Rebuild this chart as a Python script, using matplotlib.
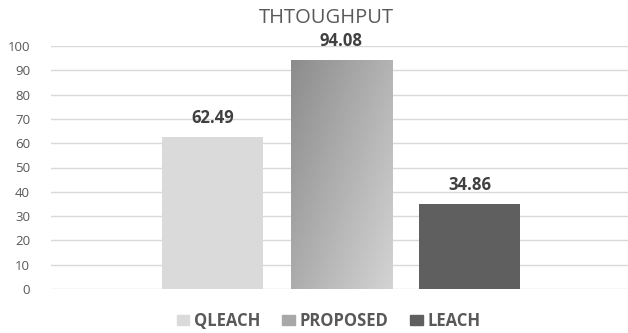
import numpy as np
import matplotlib.pyplot as plt
from matplotlib.patches import Patch

# throughput per protocol
protocols = ['QLEACH', 'PROPOSED', 'LEACH']
throughput = [62.49, 94.08, 34.86]
y_ticks = [0, 10, 20, 30, 40, 50, 60, 70, 80, 90, 100]

plt.rcParams['font.family'] = ['Open Sans', 'DejaVu Sans']

fig = plt.figure(figsize=(6.28, 3.33), dpi=100)
ax = fig.add_axes([51 / 628, 44 / 333, 1 - 51 / 628, 243 / 333])

x = np.arange(len(protocols))
width = 0.786
bars = ax.bar(x, throughput, width=width,
              color=['#dadada', '#b4b4b4', '#5f5f5f'], zorder=2)

# diagonal grey gradient on the PROPOSED bar, dark top-left to light bottom-right
gb = bars[1]
bx, by = gb.get_x(), gb.get_y()
bw, bh = gb.get_width(), gb.get_height()
gx, gy = np.meshgrid(np.linspace(0, 1, 200), np.linspace(0, 1, 200))
grad = 0.55 * gx + 0.45 * gy
img = ax.imshow(grad, cmap='gray', vmin=-1.96, vmax=1.61, origin='upper',
                extent=[bx, bx + bw, by, by + bh], aspect='auto', zorder=3,
                interpolation='bilinear')
img.set_clip_path(gb)
ax.set_xlim(-1.26, 3.23)

for xi, v in zip(x, throughput):
    ax.text(xi, v + 4.3, f'{v:.2f}', ha='center', va='bottom',
            fontsize=12, fontweight='bold', color='#404040')

ax.set_ylim(0, 100)
ax.set_yticks(y_ticks)
ax.set_xticks([])
ax.grid(axis='y', color='#d9d9d9', linewidth=1.0, zorder=0)
for s in ax.spines.values():
    s.set_visible(False)
ax.tick_params(axis='y', length=0, labelsize=9.5, labelcolor='#595959', pad=15)

fig.text(326 / 628, 1 - 18 / 333, 'THTOUGHPUT', ha='center', va='center',
         fontsize=14.5, color='#595959')

handles = [Patch(color=c) for c in ['#dadada', '#a8a8a8', '#5f5f5f']]
fig.legend(handles, protocols, loc='center', bbox_to_anchor=(329 / 628, 1 - 321 / 333),
           ncol=3, frameon=False, handlelength=0.75, handleheight=0.6,
           handletextpad=0.3, columnspacing=1.3,
           prop={'size': 12, 'weight': 'bold'}, labelcolor='#595959')

fig.savefig('out.png', dpi=100)
